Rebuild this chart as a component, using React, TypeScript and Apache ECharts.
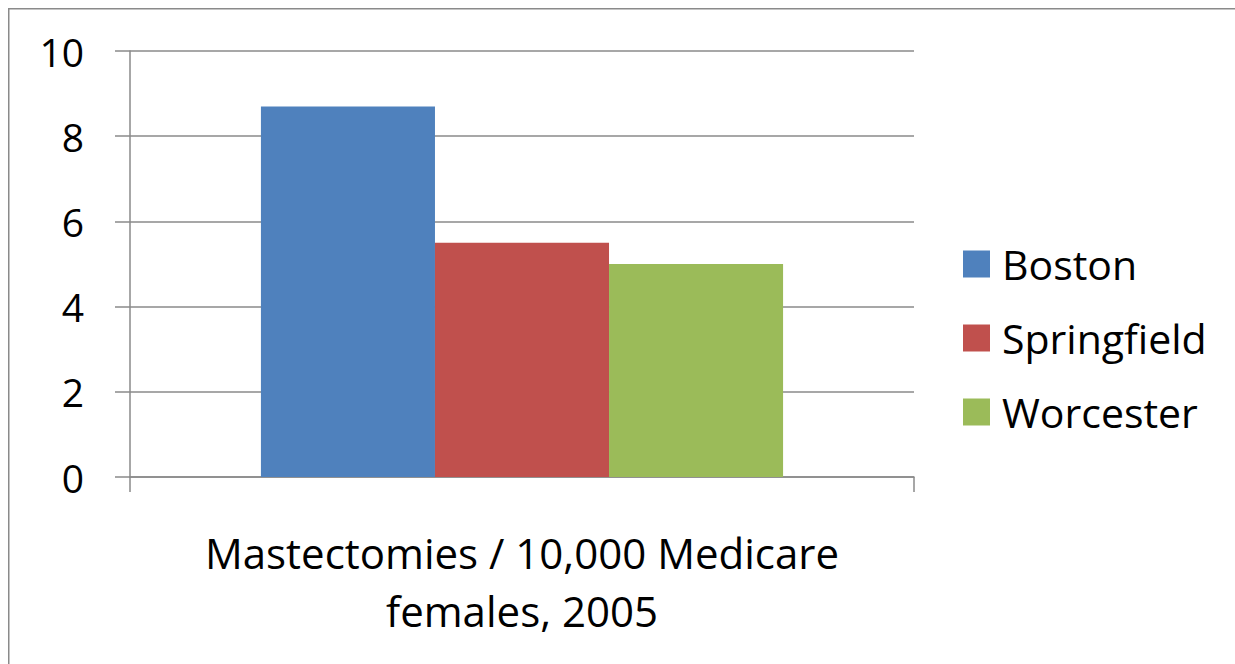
import React, { useEffect, useRef } from "react";
import * as echarts from "echarts";

const categories = ["Mastectomies / 10,000 Medicare\nfemales, 2005"];
const seriesNames = ["Boston", "Springfield", "Worcester"];
const bostonValues = [8.7];
const springfieldValues = [5.5];
const worcesterValues = [5.0];
const seriesColors = ["#4F81BD", "#C0504D", "#9BBB59"];

const FONT = "Open Sans";

export default function App() {
  const ref = useRef<HTMLDivElement>(null);
  useEffect(() => {
    if (!ref.current) return;
    const chart = echarts.init(ref.current, undefined, { renderer: "svg" });
    const values = [bostonValues, springfieldValues, worcesterValues];
    chart.setOption({
      animation: false,
      backgroundColor: "#ffffff",
      textStyle: { fontFamily: FONT, color: "#000" },
      grid: { left: 130, top: 51, right: 321, bottom: 187, containLabel: false },
      graphic: [
        {
          type: "rect",
          shape: { x: 8.75, y: 8.75, width: 2000, height: 2000 },
          style: { fill: "none", stroke: "#8a8a8a", lineWidth: 1.5 },
          silent: true,
        },
      ],
      legend: {
        orient: "vertical",
        left: 963,
        top: 242,
        padding: 0,
        itemWidth: 27,
        itemHeight: 27,
        itemGap: 30,
        icon: "rect",
        textStyle: { fontFamily: FONT, fontSize: 41, color: "#000", lineHeight: 44, padding: [0, 0, 0, 7] },
        data: seriesNames,
      },
      xAxis: {
        type: "category",
        data: categories,
        axisLine: { show: true, lineStyle: { color: "#8a8a8a", width: 1.5 } },
        axisTick: { show: true, length: 15, alignWithLabel: false, lineStyle: { color: "#8a8a8a", width: 1.5 } },
        axisLabel: { fontFamily: FONT, fontSize: 42, color: "#000", margin: 46, lineHeight: 58 },
      },
      yAxis: {
        type: "value",
        min: 0,
        max: 10,
        interval: 2,
        axisLine: { show: true, lineStyle: { color: "#8a8a8a", width: 1.5 } },
        axisTick: { show: true, length: 15, lineStyle: { color: "#8a8a8a", width: 1.5 } },
        splitLine: { show: true, lineStyle: { color: "#8a8a8a", width: 1.5 } },
        axisLabel: { fontFamily: FONT, fontSize: 39, color: "#000", margin: 46 },
      },
      series: seriesNames.map((name, i) => ({
        name,
        type: "bar",
        data: values[i],
        itemStyle: { color: seriesColors[i] },
        barGap: "0%",
        barCategoryGap: "33.4%",
      })),
    });
    return () => chart.dispose();
  }, []);
  return (
    <div
      ref={ref}
      style={{ position: "fixed", left: 0, top: 0, width: 1235, height: 664 }}
    />
  );
}
